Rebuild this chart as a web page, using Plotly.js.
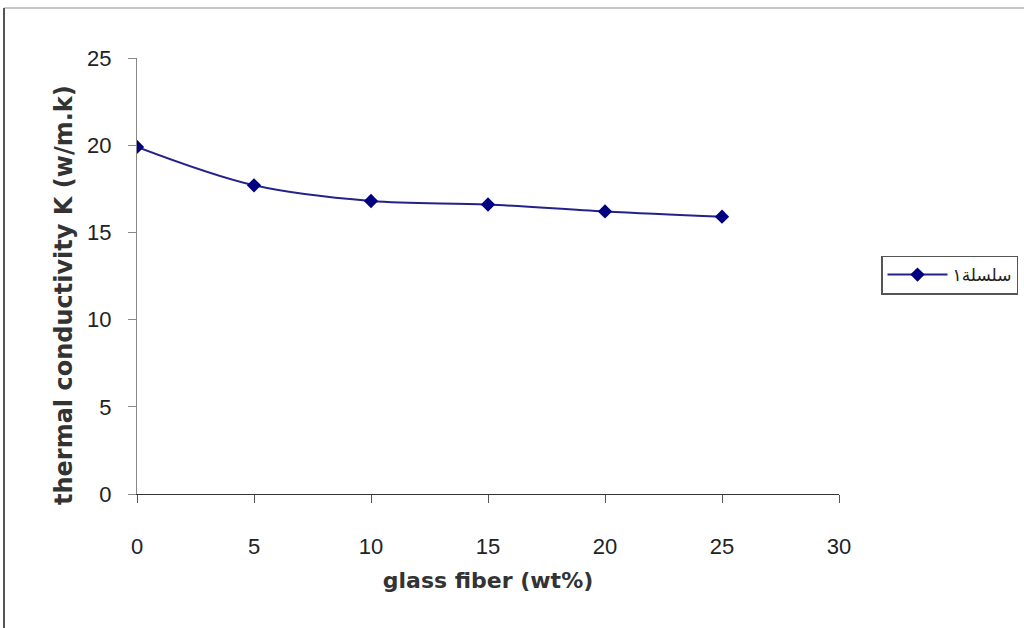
<!DOCTYPE html>
<html>
<head>
<meta charset="utf-8">
<script src="https://cdn.plot.ly/plotly-3.0.1.min.js"></script>
<style>html,body{margin:0;padding:0;background:#fff;}#chart{width:1024px;height:628px;}</style>
</head>
<body>
<div id="chart"></div>
<script>
const glassFiber = [0, 5, 10, 15, 20, 25];
const conductivity = [19.9, 17.7, 16.8, 16.6, 16.2, 15.9];
const seriesName = "سلسلة١";
const xTitle = "glass fiber (wt%)";
const yTitle = "thermal conductivity K (w/m.k)";
const xTicks = [0, 5, 10, 15, 20, 25, 30];
const yTicks = [0, 5, 10, 15, 20, 25];

const L = 137, R = 839, T = 58, B = 494;
const W = 1024, H = 628;
const px = v => (v - L) / (R - L);
const py = v => (B - v) / (B - T);

const tickFont = {family: 'Liberation Sans Narrow, Arial Narrow, Liberation Sans, Arial, sans-serif', size: 22, color: '#222'};
const titleFont = {family: 'DejaVu Sans, sans-serif', size: 22, color: '#333', weight: 'bold'};

const trace = {
  x: glassFiber, y: conductivity, name: seriesName,
  type: 'scatter', mode: 'lines+markers',
  line: {color: '#22228a', width: 2, shape: 'spline', smoothing: 1},
  marker: {symbol: 'diamond', size: 11, color: '#000080'}
};

const layout = {
  width: W, height: H,
  margin: {l: L, r: W - R, t: T, b: H - B, pad: 0, autoexpand: false},
  paper_bgcolor: '#ffffff', plot_bgcolor: '#ffffff',
  font: {family: 'Liberation Sans, Arial, sans-serif', color: '#222', size: 17},
  showlegend: true,
  legend: {
    x: px(881), y: py(275), xanchor: 'left', yanchor: 'middle',
    bordercolor: '#555', borderwidth: 1.5, bgcolor: '#fff',
    font: {family: 'DejaVu Sans, sans-serif', size: 17, color: '#222'},
    itemwidth: 60
  },
  xaxis: {
    range: [0, 30], tickvals: xTicks, ticktext: xTicks.map(String),
    showgrid: false, zeroline: false, showline: true, linecolor: '#333', linewidth: 1,
    ticks: 'outside', ticklen: 8, tickcolor: '#555',
    ticklabelstandoff: 25,
    tickfont: tickFont,
    title: {text: xTitle, font: titleFont, standoff: 14}
  },
  yaxis: {
    range: [0, 25], tickvals: yTicks, ticktext: yTicks.map(String),
    showgrid: false, zeroline: false, showline: true, linecolor: '#888', linewidth: 1,
    ticks: 'outside', ticklen: 8, tickcolor: '#888',
    ticklabelstandoff: 12,
    tickfont: tickFont
  },
  annotations: [
    {text: yTitle, xref: 'paper', yref: 'paper', x: px(64), y: py(295),
     xanchor: 'center', yanchor: 'middle', textangle: -90, showarrow: false,
     font: {family: 'DejaVu Sans, sans-serif', size: 24, color: '#333', weight: 'bold'}}
  ],
  shapes: [
    {type: 'line', xref: 'paper', yref: 'paper', x0: px(4), x1: px(1024), y0: py(8), y1: py(8), line: {color: '#c8c8c8', width: 2}},
    {type: 'line', xref: 'paper', yref: 'paper', x0: px(4), x1: px(4), y0: py(8), y1: py(628), line: {color: '#555', width: 2}}
  ]
};

Plotly.newPlot('chart', [trace], layout, {displayModeBar: false, staticPlot: true});
</script>
</body>
</html>
